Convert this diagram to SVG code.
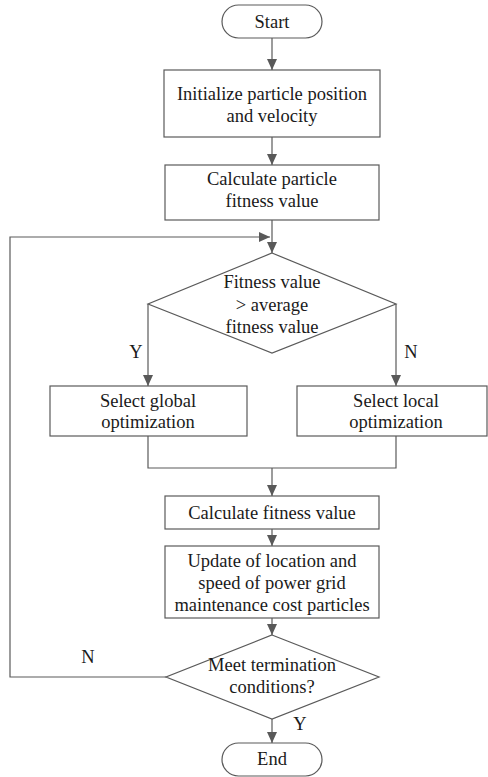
<svg xmlns="http://www.w3.org/2000/svg" width="488" height="777" viewBox="0 0 488 777">
<defs>
<marker id="ah" markerWidth="11" markerHeight="10" refX="11" refY="5" orient="auto" markerUnits="userSpaceOnUse">
<path d="M0,0 L11,5 L0,10 Z" fill="#595959"/>
</marker>
<style>
.n{fill:#fff;stroke:#5a5a5a;stroke-width:1.2}
.c{fill:none;stroke:#5a5a5a;stroke-width:1.2}
</style>
</defs>
<rect width="488" height="777" fill="#fff"/>
<g font-size="18.5" fill="#1a1a1a" text-anchor="middle">
<g id="connectors">
<path class="c" d="M272,38 V70" marker-end="url(#ah)"/>
<path class="c" d="M272,137 V165" marker-end="url(#ah)"/>
<path class="c" d="M272,220 V253" marker-end="url(#ah)"/>
<path class="c" d="M166,677 H10 V237 H270" marker-end="url(#ah)"/>
<path class="c" d="M148,304 V386" marker-end="url(#ah)"/>
<path class="c" d="M396,304 V386" marker-end="url(#ah)"/>
<path class="c" d="M148,436 V468 H396 V436"/>
<path class="c" d="M272,468 V496" marker-end="url(#ah)"/>
<path class="c" d="M272,529 V546" marker-end="url(#ah)"/>
<path class="c" d="M272,618 V635" marker-end="url(#ah)"/>
<path class="c" d="M272,719 V743" marker-end="url(#ah)"/>
<text font-family="'Liberation Serif',monospace" x="136" y="358">Y</text>
<text font-family="'Liberation Serif',monospace" x="411" y="358">N</text>
<text font-family="'Liberation Serif',monospace" x="88" y="663">N</text>
<text font-family="'Liberation Serif',monospace" x="300" y="730">Y</text>
</g>
<g id="start">
<rect class="n" x="222" y="5" width="100" height="33" rx="16.5"/>
<text font-family="'Liberation Serif',monospace" x="272" y="27.5">Start</text>
</g>
<g id="init">
<rect class="n" x="164" y="70" width="216" height="67"/>
<text font-family="'Liberation Serif',monospace" x="272" y="100">Initialize particle position</text>
<text font-family="'Liberation Serif',monospace" x="272" y="122">and velocity</text>
</g>
<g id="calc1">
<rect class="n" x="165" y="165" width="214" height="55"/>
<text font-family="'Liberation Serif',monospace" x="272" y="185">Calculate particle</text>
<text font-family="'Liberation Serif',monospace" x="272" y="207">fitness value</text>
</g>
<g id="decision1">
<polygon class="n" points="272,253 396,304 272,353 148,304"/>
<text font-family="'Liberation Serif',monospace" x="272" y="288">Fitness value</text>
<text font-family="'Liberation Serif',monospace" x="272" y="311">&gt; average</text>
<text font-family="'Liberation Serif',monospace" x="272" y="333">fitness value</text>
</g>
<g id="global">
<rect class="n" x="50" y="386" width="197" height="50"/>
<text font-family="'Liberation Serif',monospace" x="148" y="406.5">Select global</text>
<text font-family="'Liberation Serif',monospace" x="148" y="428">optimization</text>
</g>
<g id="local">
<rect class="n" x="297" y="386" width="190" height="50"/>
<text font-family="'Liberation Serif',monospace" x="396" y="406.5">Select local</text>
<text font-family="'Liberation Serif',monospace" x="396" y="428">optimization</text>
</g>
<g id="calc2">
<rect class="n" x="165" y="496" width="214" height="33"/>
<text font-family="'Liberation Serif',monospace" x="272" y="519">Calculate fitness value</text>
</g>
<g id="update">
<rect class="n" x="165" y="546" width="214" height="72"/>
<text font-family="'Liberation Serif',monospace" x="272" y="567">Update of location and</text>
<text font-family="'Liberation Serif',monospace" x="272" y="589">speed of power grid</text>
<text font-family="'Liberation Serif',monospace" x="272" y="611">maintenance cost particles</text>
</g>
<g id="decision2">
<polygon class="n" points="272,635 379,677 272,719 166,677"/>
<text font-family="'Liberation Serif',monospace" x="272" y="671">Meet termination</text>
<text font-family="'Liberation Serif',monospace" x="272" y="693">conditions?</text>
</g>
<g id="end">
<rect class="n" x="222" y="743" width="100" height="33" rx="16.5"/>
<text font-family="'Liberation Serif',monospace" x="272" y="765">End</text>
</g>
</g>
</svg>
